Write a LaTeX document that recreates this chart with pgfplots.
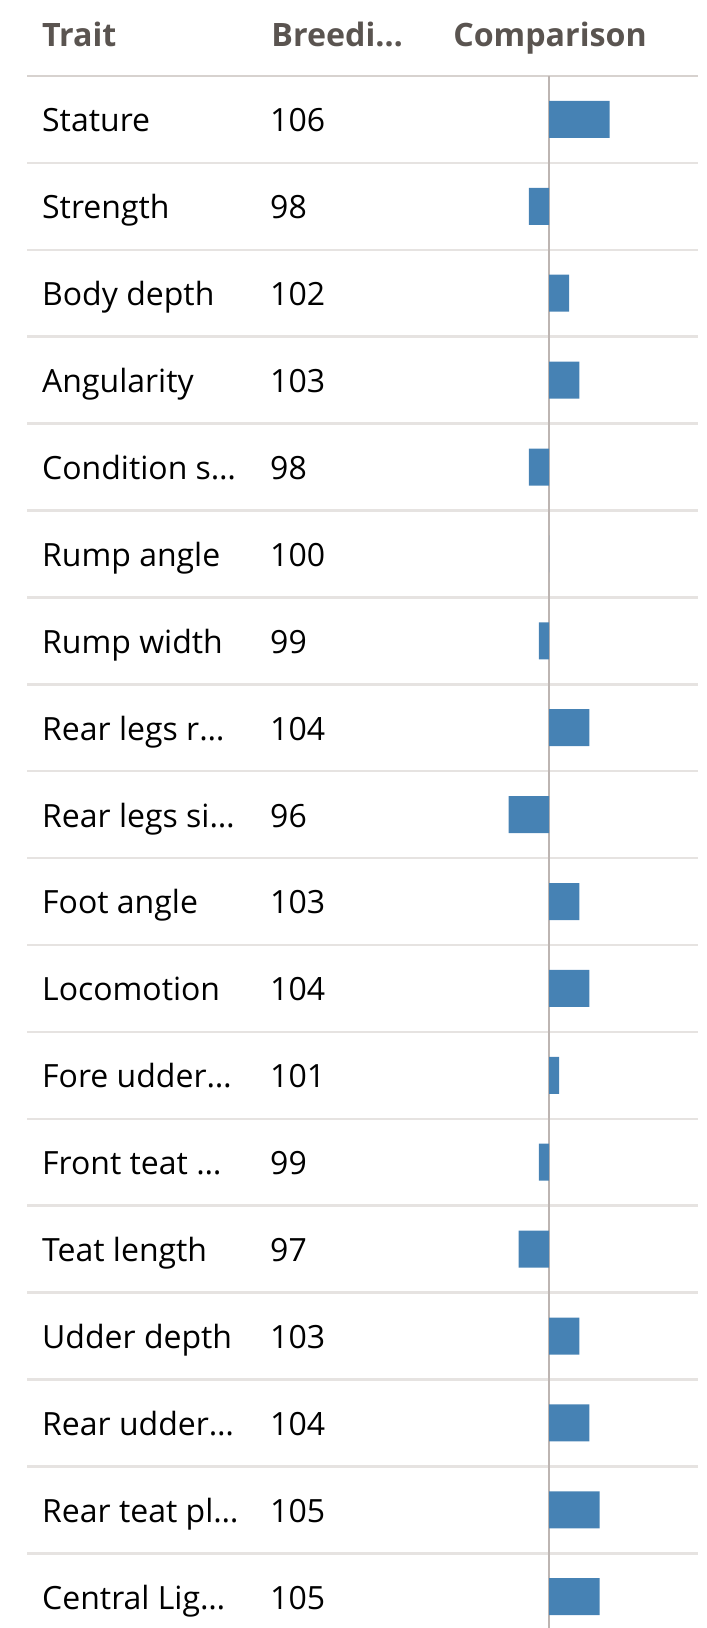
\documentclass[border=0pt]{standalone}
\usepackage{fontspec}
\setmainfont{Open Sans}
\usepackage{pgfplots}
\usepackage{pgfplotstable}
\pgfplotsset{compat=1.18}
\definecolor{barc}{HTML}{4682B4}
\definecolor{hdr}{HTML}{5A5450}
\definecolor{sepc}{HTML}{E6E3E1}
\definecolor{hsep}{HTML}{D7D2CF}
\definecolor{zeroc}{HTML}{BDB5B2}

\pgfplotstableread[col sep=comma]{
row,trait,value
1,Stature,106
2,Strength,98
3,Body depth,102
4,Angularity,103
5,Condition s…,98
6,Rump angle,100
7,Rump width,99
8,Rear legs r…,104
9,Rear legs si…,96
10,Foot angle,103
11,Locomotion,104
12,Fore udder…,101
13,Front teat …,99
14,Teat length,97
15,Udder depth,103
16,Rear udder…,104
17,Rear teat pl…,105
18,Central Lig…,105
}\data

\begin{document}
\begin{tikzpicture}
\begin{axis}[
 width=706pt, height=1628pt, scale only axis,
 xmin=-54.356, xmax=15.545,
 ymin=-0.3746, ymax=18.360, y dir=reverse,
 hide axis, clip=false,
]
% row separators
\pgfplotsinvokeforeach{1.5,2.5,...,17.5}{
  \draw[sepc, line width=2.5pt] (axis cs:-51.68,#1) -- (axis cs:14.75,#1);
}
\draw[hsep, line width=2.8pt] (axis cs:-51.68,0.5) -- (axis cs:14.75,0.5);
% zero line
\draw[zeroc, line width=2pt] (axis cs:-0.03,0.5) -- (axis cs:-0.03,18.36);
% bars
\addplot[xbar, bar shift=0pt, bar width=37pt, fill=barc, draw=none, forget plot]
  table[x expr=\thisrow{value}-100, y=row] {\data};
% trait names
\addplot[draw=none, mark=none, forget plot, nodes near coords, point meta=explicit symbolic,
  nodes near coords align={anchor=base west},
  every node near coord/.append style={anchor=base west, inner sep=0pt, font=\fontsize{32}{36}\selectfont, text=black}]
  table[x expr=-50.2, y expr=\thisrow{row}+0.143, meta=trait] {\data};
% breeding values
\addplot[draw=none, mark=none, forget plot, nodes near coords, point meta=explicit symbolic,
  nodes near coords align={anchor=base west},
  every node near coord/.append style={anchor=base west, inner sep=0pt, font=\fontsize{32}{36}\selectfont, text=black}]
  table[x expr=-27.62, y expr=\thisrow{row}+0.143, meta=value] {\data};
% headers
\node[anchor=base west, inner sep=0pt, text=hdr, font=\bfseries\fontsize{32.2}{36}\selectfont] at (axis cs:-50.2,0.163) {Trait};
\node[anchor=base west, inner sep=0pt, text=hdr, font=\bfseries\fontsize{32.2}{36}\selectfont] at (axis cs:-27.5,0.163) {Breedi…};
\node[anchor=base west, inner sep=0pt, text=hdr, font=\bfseries\fontsize{32.2}{36}\selectfont] at (axis cs:-9.5,0.163) {Comparison};
\end{axis}
\pgfresetboundingbox
\useasboundingbox (current axis.south west) rectangle (current axis.north east);
\end{tikzpicture}
\end{document}
